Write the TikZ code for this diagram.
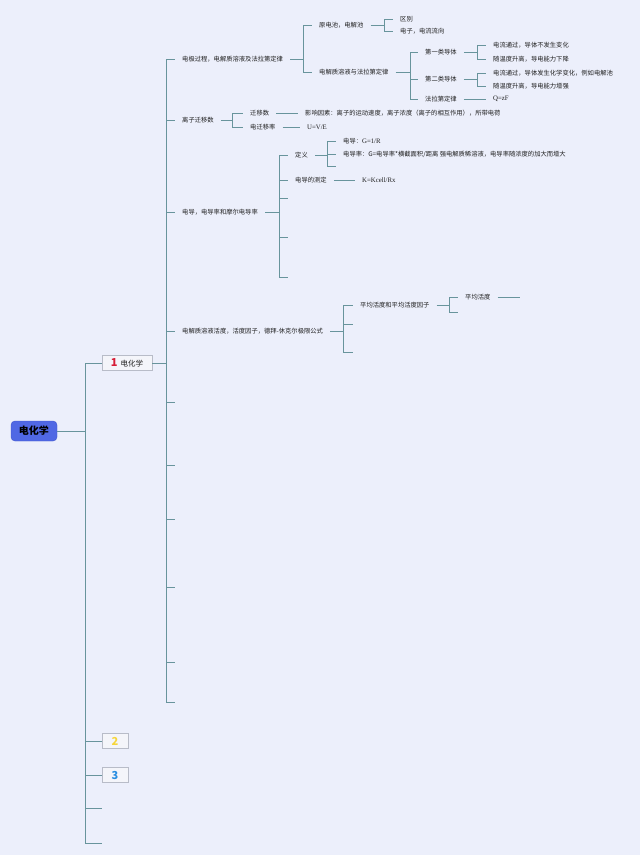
\documentclass[tikz,border=0pt]{standalone}
\usepackage{fontspec}
\setmainfont{Liberation Serif}
\newfontfamily\cjk{Noto Sans CJK SC}
\usepackage{tikz}
\usetikzlibrary{positioning}

\definecolor{paper}{RGB}{236,239,251}
\definecolor{linkteal}{RGB}{104,148,156}
\definecolor{rootblue}{RGB}{80,104,228}
\definecolor{rootedge}{RGB}{62,84,204}
\definecolor{boxfill}{RGB}{244,245,250}
\definecolor{boxedge}{RGB}{184,188,200}
\definecolor{inkgrey}{RGB}{30,30,30}
\definecolor{numred}{RGB}{214,30,56}
\definecolor{numyellow}{RGB}{246,214,60}
\definecolor{numblue}{RGB}{40,142,226}

\begin{document}
\begin{tikzpicture}[x=1pt, y=-1pt]
			\tikzstyle{Root}	= [rounded corners=4pt, fill=rootblue, draw=rootedge, text=black, minimum width=46pt, minimum height=20pt, inner sep=0pt, font=\cjk\bfseries\fontsize{10}{12}\selectfont]
			\tikzstyle{Box}		= [draw=boxedge, fill=boxfill, line width=0.6pt, minimum height=15pt, inner sep=0pt, text=inkgrey, font=\cjk\fontsize{7.5}{9}\selectfont]
			\tikzstyle{Leaf}	= [anchor=west, inner xsep=7pt, inner ysep=1pt, text=inkgrey, font=\cjk\fontsize{6.3}{7.5}\selectfont]
			\tikzstyle{Formula}	= [Leaf, font=\rmfamily\fontsize{6.8}{8}\selectfont]
			\tikzstyle{Link}	= [linkteal, line width=0.9pt]

			\fill [paper] (0, 0) rectangle (640, 855);
			\useasboundingbox (0, 0) rectangle (640, 855);

			% root and first level
			\node (r) at (34, 431) [Root] {电化学};
			\node (b1) at (127, 363) [Box, minimum width=50pt] {{\color{numred}\bfseries\fontsize{11}{12}\selectfont 1}\hspace{3pt}电化学};
			\node (b2) at (115, 741) [Box, minimum width=26pt] {\color{numyellow}\bfseries\fontsize{11}{12}\selectfont 2};
			\node (b3) at (115, 775) [Box, minimum width=26pt] {\color{numblue}\bfseries\fontsize{11}{12}\selectfont 3};
			\coordinate (c0) at (85, 431);
			\coordinate (e1) at (102, 808);
			\coordinate (e2) at (102, 843);

			\draw [-] (r) to (c0) [Link];
			\draw [-] (c0) |- (b1) [Link];
			\draw [-] (c0) |- (b2) [Link];
			\draw [-] (c0) |- (b3) [Link];
			\draw [-] (c0) |- (e1) [Link];
			\draw [-] (c0) |- (e2) [Link];

			% second level
			\coordinate (c1) at (166, 363);
			\node (n1) at (175, 59) [Leaf] {电极过程，电解质溶液及法拉第定律};
			\node (n2) at (175, 120) [Leaf] {离子迁移数};
			\node (n3) at (175, 212) [Leaf] {电导，电导率和摩尔电导率};
			\node (n4) at (175, 331) [Leaf] {电解质溶液活度，活度因子，德拜-休克尔极限公式};
			\coordinate (s1) at (175, 402);
			\coordinate (s2) at (175, 465);
			\coordinate (s3) at (175, 519);
			\coordinate (s4) at (175, 587);
			\coordinate (s5) at (175, 662);
			\coordinate (s6) at (175, 702);

			\draw [-] (b1) to (c1) [Link];
			\foreach \k in {n1, n2, n3, n4, s1, s2, s3, s4, s5, s6}
				\draw [-] (c1) |- (\k) [Link];

			% electrode processes
			\coordinate (c11) at (303, 59);
			\node (n11) at (312, 25) [Leaf] {原电池，电解池};
			\node (n12) at (312, 72) [Leaf] {电解质溶液与法拉第定律};
			\draw [-] (n1) to (c11) [Link];
			\draw [-] (c11) |- (n11) [Link];
			\draw [-] (c11) |- (n12) [Link];

			\coordinate (c111) at (384, 25);
			\node (n111) at (393, 19) [Leaf] {区别};
			\node (n112) at (393, 31) [Leaf] {电子，电流流向};
			\draw [-] (n11) to (c111) [Link];
			\draw [-] (c111) |- (n111) [Link];
			\draw [-] (c111) |- (n112) [Link];

			\coordinate (c12) at (410, 72);
			\node (n121) at (418, 52) [Leaf] {第一类导体};
			\node (n122) at (418, 79) [Leaf] {第二类导体};
			\node (n123) at (418, 99) [Leaf] {法拉第定律};
			\draw [-] (n12) to (c12) [Link];
			\draw [-] (c12) |- (n121) [Link];
			\draw [-] (c12) |- (n122) [Link];
			\draw [-] (c12) |- (n123) [Link];

			\coordinate (c121) at (477, 52);
			\node (n1211) at (486, 45) [Leaf] {电流通过，导体不发生变化};
			\node (n1212) at (486, 59) [Leaf] {随温度升高，导电能力下降};
			\draw [-] (n121) to (c121) [Link];
			\draw [-] (c121) |- (n1211) [Link];
			\draw [-] (c121) |- (n1212) [Link];

			\coordinate (c122) at (477, 79);
			\node (n1221) at (486, 73) [Leaf] {电流通过，导体发生化学变化，例如电解池};
			\node (n1222) at (486, 86) [Leaf] {随温度升高，导电能力增强};
			\draw [-] (n122) to (c122) [Link];
			\draw [-] (c122) |- (n1221) [Link];
			\draw [-] (c122) |- (n1222) [Link];

			\node (n1231) at (486, 99) [Formula] {Q=zF};
			\draw [-] (n123) to (n1231) [Link];

			% transference numbers
			\coordinate (c2) at (232, 120);
			\node (n21) at (243, 113) [Leaf] {迁移数};
			\node (n22) at (243, 127) [Leaf] {电迁移率};
			\draw [-] (n2) to (c2) [Link];
			\draw [-] (c2) |- (n21) [Link];
			\draw [-] (c2) |- (n22) [Link];
			\node (n211) at (298, 113) [Leaf] {影响因素：离子的运动速度，离子浓度（离子的相互作用），所带电荷};
			\node (n221) at (300, 127) [Formula] {U=V/E};
			\draw [-] (n21) to (n211) [Link];
			\draw [-] (n22) to (n221) [Link];

			% conductance
			\coordinate (c3) at (279, 212);
			\node (n31) at (288, 155) [Leaf] {定义};
			\node (n32) at (288, 180) [Leaf] {电导的测定};
			\coordinate (s31) at (288, 198);
			\coordinate (s32) at (288, 237);
			\coordinate (s33) at (288, 277);
			\draw [-] (n3) to (c3) [Link];
			\foreach \k in {n31, n32, s31, s32, s33}
				\draw [-] (c3) |- (\k) [Link];

			\coordinate (c31) at (327, 155);
			\node (n311) at (336, 141) [Leaf] {电导：{\rmfamily\fontsize{6.8}{8}\selectfont G=1/R}};
			\node (n312) at (336, 154) [Leaf] {电导率：G=电导率*横截面积/距离 强电解质稀溶液，电导率随浓度的加大而增大};
			\coordinate (s311) at (336, 166);
			\draw [-] (n31) to (c31) [Link];
			\draw [-] (c31) |- (n311) [Link];
			\draw [-] (c31) |- (n312) [Link];
			\draw [-] (c31) |- (s311) [Link];

			\node (n321) at (355, 180) [Formula] {K=Kcell/Rx};
			\draw [-] (n32) to (n321) [Link];

			% activity
			\coordinate (c4) at (343, 331);
			\node (n41) at (353, 305) [Leaf] {平均活度和平均活度因子};
			\coordinate (s41) at (353, 324);
			\coordinate (s42) at (353, 352);
			\draw [-] (n4) to (c4) [Link];
			\draw [-] (c4) |- (n41) [Link];
			\draw [-] (c4) |- (s41) [Link];
			\draw [-] (c4) |- (s42) [Link];

			\coordinate (c41) at (449, 305);
			\node (n411) at (458, 297) [Leaf] {平均活度};
			\coordinate (s411) at (458, 312);
			\coordinate (e411) at (520, 297);
			\draw [-] (n41) to (c41) [Link];
			\draw [-] (c41) |- (n411) [Link];
			\draw [-] (c41) |- (s411) [Link];
			\draw [-] (n411) to (e411) [Link];
		\end{tikzpicture}
\end{document}
